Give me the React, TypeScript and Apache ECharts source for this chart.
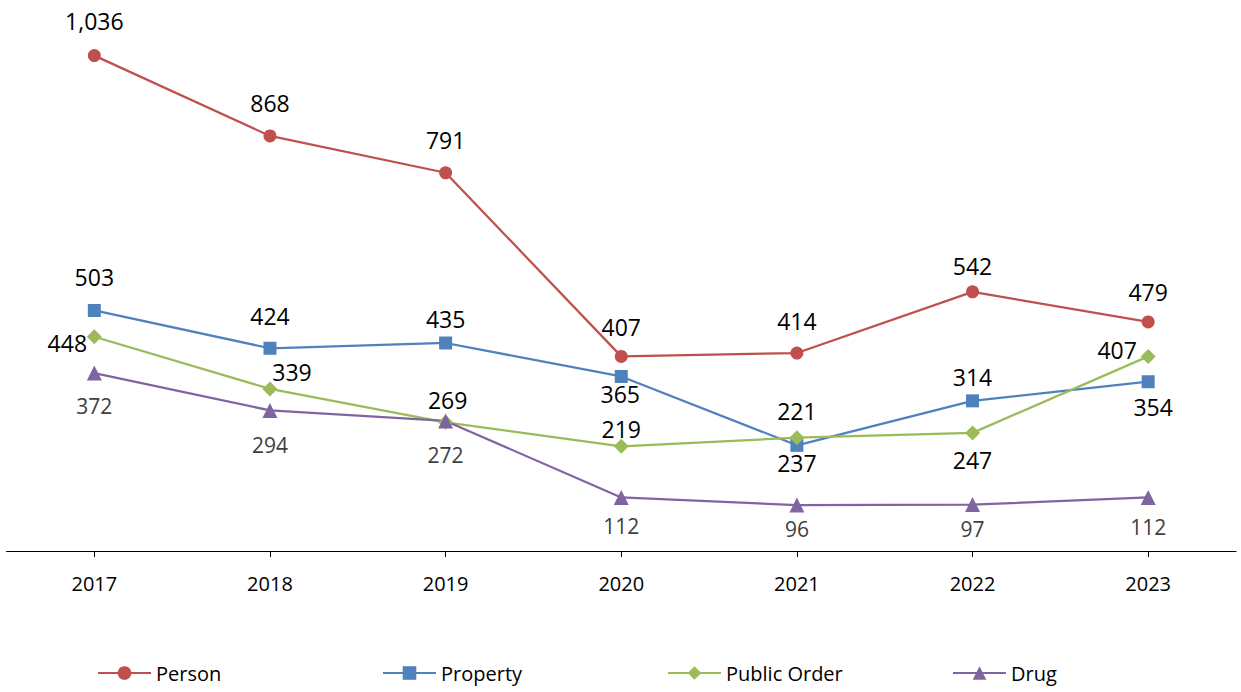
import React, { useEffect, useRef } from "react";
import * as echarts from "echarts";

const years = ["2017", "2018", "2019", "2020", "2021", "2022", "2023"];
const person = [1036, 868, 791, 407, 414, 542, 479];
const property = [503, 424, 435, 365, 221, 314, 354];
const publicOrder = [448, 339, 269, 219, 237, 247, 407];
const drug = [372, 294, 272, 112, 96, 97, 112];

// label offsets (placement only)
const personOff = [[0, -35], [0, -33], [0, -33], [0, -29], [0, -32], [0, -26], [0, -30]];
const propertyOff = [[0, -33], [0, -32], [0, -24], [-1, 18], [0, -34], [0, -24], [5, 25]];
const publicOff = [[-27, 6], [22, -17], [2, -22], [0, -17], [0, 25], [0, 27], [-31, -6]];
const drugOff = [[0, 33], [0, 35], [0, 34], [0, 29], [0, 24], [0, 24], [0, 30]];

const FONT = "'Open Sans', 'Noto Sans', sans-serif";

function mk(name: string, values: number[], offs: number[][], color: string, symbol: string, size: number, labelColor: string, labelSize: number) {
  return {
    name,
    type: "line",
    data: values.map((v, i) => ({
      value: v,
      label: { offset: offs[i] },
    })),
    symbol,
    symbolSize: size,
    lineStyle: { color, width: 2.25 },
    itemStyle: { color },
    label: {
      show: true,
      position: "inside",
      color: labelColor,
      fontSize: labelSize,
      fontFamily: FONT,
      formatter: (p: any) => Number(p.value).toLocaleString("en-US"),
    },
  };
}

export default function App() {
  const ref = useRef<HTMLDivElement>(null);
  useEffect(() => {
    const chart = echarts.init(ref.current!, null, { renderer: "svg" });
    const legendBase = {
      bottom: 9,
      padding: 0,
      itemWidth: 53,
      itemHeight: 17,
      itemGap: 5,
      textStyle: { fontSize: 20, fontFamily: FONT, color: "#000" },
    };
    chart.setOption({
      animation: false,
      backgroundColor: "#fff",
      grid: { left: 6.5, right: 5, top: 25, bottom: 141 },
      xAxis: {
        type: "category",
        data: years,
        boundaryGap: true,
        axisLine: { lineStyle: { color: "#000", width: 1.2 } },
        axisTick: { show: true, alignWithLabel: true, length: 6, lineStyle: { color: "#000" } },
        axisLabel: { color: "#000", fontSize: 20, fontFamily: FONT, margin: 22 },
      },
      yAxis: { type: "value", min: 0, max: 1100, show: false, splitLine: { show: false } },
      legend: [
        { ...legendBase, left: 97, data: ["Person"] },
        { ...legendBase, left: 382, data: ["Property"] },
        { ...legendBase, left: 667, data: ["Public Order"] },
        { ...legendBase, left: 952, data: ["Drug"] },
      ],
      series: [
        mk("Person", person, personOff, "#C0504D", "circle", 13, "#000", 23),
        mk("Property", property, propertyOff, "#4F81BD", "rect", 13, "#000", 23),
        mk("Public Order", publicOrder, publicOff, "#9BBB59", "diamond", 15, "#000", 23),
        mk("Drug", drug, drugOff, "#8064A2", "triangle", 15, "#404040", 21),
      ],
    });
    return () => chart.dispose();
  }, []);
  return <div ref={ref} style={{ position: "absolute", left: 0, top: 0, width: 1241, height: 692 }} />;
}
